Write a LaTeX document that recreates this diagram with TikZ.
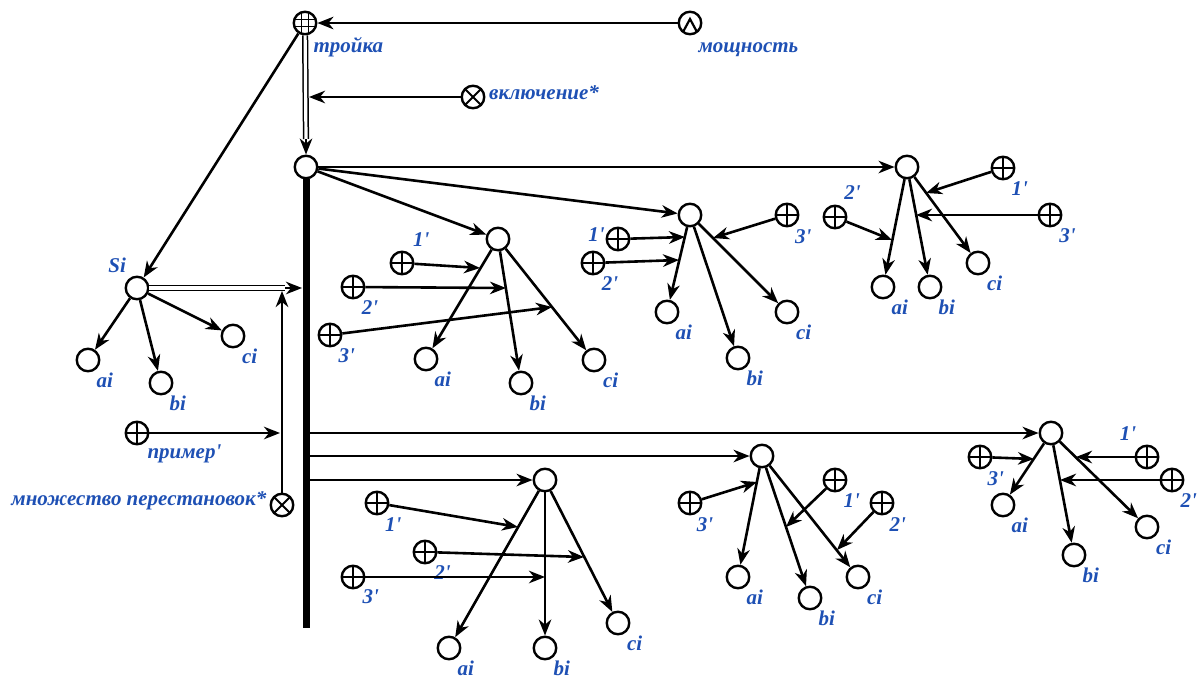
\documentclass[tikz,border=0pt]{standalone}
\usepackage{fontspec}
\newfontfamily\idfont{Liberation Serif}
\usetikzlibrary{arrows.meta,positioning}
\definecolor{idblue}{RGB}{30,80,180}

\begin{document}
\begin{tikzpicture}[
  x=1pt, y=1pt,
  >={Stealth[length=16pt,width=12.5pt,inset=5pt]},
  elem/.style={circle, draw, line width=2.4pt, minimum size=22.5pt, inner sep=0pt},
  plus/.style={elem, path picture={
      \draw[line width=2pt] (path picture bounding box.north) -- (path picture bounding box.south)
        (path picture bounding box.west) -- (path picture bounding box.east);}},
  cross/.style={elem, path picture={
      \draw[line width=2pt] (path picture bounding box.north west) -- (path picture bounding box.south east)
        (path picture bounding box.north east) -- (path picture bounding box.south west);}},
  grid/.style={elem, path picture={
      \draw[line width=1.4pt]
        ([xshift=-3.6pt]path picture bounding box.north) -- ([xshift=-3.6pt]path picture bounding box.south)
        ([xshift=3.6pt]path picture bounding box.north) -- ([xshift=3.6pt]path picture bounding box.south)
        ([yshift=-3.6pt]path picture bounding box.west) -- ([yshift=-3.6pt]path picture bounding box.east)
        ([yshift=3.6pt]path picture bounding box.west) -- ([yshift=3.6pt]path picture bounding box.east);}},
  hat/.style={elem, path picture={
      \draw[line width=2.2pt]
        ([xshift=-7pt,yshift=-9pt]path picture bounding box.center) -- ([yshift=4pt]path picture bounding box.center)
        -- ([xshift=7pt,yshift=-9pt]path picture bounding box.center);}},
  lbl/.style={text=idblue, font=\idfont\fontsize{21}{24}\selectfont\bfseries\itshape,
    inner sep=2pt, text height=14pt, text depth=4.5pt},
  tag/.style args={#1:#2}{label={[lbl, anchor=center, label distance=16pt]#1:#2}},
  sub/.style={elem, tag=-54:#1},
  arrow/.style={->, line width=2.6pt},
  dbl/.style={double=white, double distance=3.2pt, line width=1.5pt}
]
\useasboundingbox (0,0) rectangle (1203,-681);

% top of the construction
\node[grid] (triple) at (305,-23) {};
\node[hat] (power) at (690,-23) {};
\node[cross] (incl) at (473,-97) {};
\node[elem] (root) at (306,-167) {};
\coordinate (inclend) at (309,-97);
\coordinate (rootin) at (306,-139);
\coordinate (barend) at (306,-628);

\node[lbl, below right=4pt and -2.5pt of triple] (tripleL) {тройка};
\node[lbl, below right=4pt and -2.5pt of power] (powerL) {мощность};
\node[lbl, right=1.5pt of incl, yshift=2.75pt] (inclL) {включение*};

\draw[arrow] (power) -- (triple);
\draw[dbl] (triple) -- (rootin);
\draw[arrow] (rootin) -- (root);
\draw[arrow] (incl) -- (inclend);
\draw[line width=7pt] (root) -- (barend);

% Si and its components
\node[elem, tag=134:Si] (si) at (137,-288) {};
\node[sub=ai] (sia) at (88,-360) {};
\node[sub=bi] (sib) at (161,-383) {};
\node[sub=ci] (sic) at (233,-336) {};
\coordinate (siin) at (285,-288);
\coordinate (sibar) at (302,-288);
\draw[arrow] (triple) -- (si);
\draw[arrow] (si) -- (sia);
\draw[arrow] (si) -- (sib);
\draw[arrow] (si) -- (sic);
\draw[dbl] (si) -- (siin);
\draw[arrow] (siin) -- (sibar);

% example and set of permutations
\node[plus] (example) at (137,-433) {};
\node[cross] (perms) at (282,-505) {};
\node[lbl, below right=0pt and -0.5pt of example] (exampleL) {пример'};
\node[lbl, left=1pt of perms, yshift=4pt] (permsL) {множество перестановок*};
\coordinate (exend) at (280,-433);
\coordinate (permsend) at (282,-291);
\draw[arrow] (example) -- (exend);
\draw[arrow] (perms) -- (permsend);

% triples
\node[elem] (t1) at (498,-239) {};
\node[elem] (t2) at (690,-215) {};
\node[elem] (t3) at (907,-167) {};
\node[elem] (t4) at (545,-480) {};
\node[elem] (t5) at (762,-456) {};
\node[elem] (t6) at (1051,-433) {};
\coordinate (bar4) at (306,-480);
\coordinate (bar5) at (306,-456);
\coordinate (bar6) at (306,-433);
\draw[arrow] (root) -- (t1);
\draw[arrow] (root) -- (t2);
\draw[arrow] (root) -- (t3);
\draw[arrow] (bar4) -- (t4);
\draw[arrow] (bar5) -- (t5);
\draw[arrow] (bar6) -- (t6);

% triple 1
\node[sub=ai] (t1a) at (426,-359) {};
\node[sub=bi] (t1b) at (521,-383) {};
\node[sub=ci] (t1c) at (594,-360) {};
\node[plus, tag=47:1'] (t1p1) at (402,-263) {};
\node[plus, tag=-53:2'] (t1p2) at (353,-287) {};
\node[plus, tag=-54:3'] (t1p3) at (330,-335) {};
\coordinate (t1e1) at (480,-268);
\coordinate (t1e2) at (506,-288);
\coordinate (t1e3) at (552,-307);
\draw[arrow] (t1) -- (t1a);
\draw[arrow] (t1) -- (t1b);
\draw[arrow] (t1) -- (t1c);
\draw[arrow] (t1p1) -- (t1e1);
\draw[arrow] (t1p2) -- (t1e2);
\draw[arrow] (t1p3) -- (t1e3);

% triple 2
\node[sub=ai] (t2a) at (667,-312) {};
\node[sub=bi] (t2b) at (738,-358) {};
\node[sub=ci] (t2c) at (787,-312) {};
\node[plus, label={[lbl, anchor=center, label distance=9pt]175:1'}] (t2p1) at (618,-239) {};
\node[plus, tag=-53:2'] (t2p2) at (593,-263) {};
\node[plus, tag=-55:3'] (t2p3) at (787,-215) {};
\coordinate (t2e1) at (685,-237);
\coordinate (t2e2) at (679,-260);
\coordinate (t2e3) at (713,-238);
\draw[arrow] (t2) -- (t2a);
\draw[arrow] (t2) -- (t2b);
\draw[arrow] (t2) -- (t2c);
\draw[arrow] (t2p1) -- (t2e1);
\draw[arrow] (t2p2) -- (t2e2);
\draw[arrow] (t2p3) -- (t2e3);

% triple 3
\node[sub=ai] (t3a) at (883,-287) {};
\node[sub=bi] (t3b) at (930,-287) {};
\node[sub=ci] (t3c) at (978,-263) {};
\node[plus, tag=-54:1'] (t3p1) at (1003,-168) {};
\node[plus, tag=52:2'] (t3p2) at (835,-217) {};
\node[plus, tag=-52:3'] (t3p3) at (1050,-215) {};
\coordinate (t3e1) at (926,-193);
\coordinate (t3e2) at (892,-240);
\coordinate (t3e3) at (916,-215);
\draw[arrow] (t3) -- (t3a);
\draw[arrow] (t3) -- (t3b);
\draw[arrow] (t3) -- (t3c);
\draw[arrow] (t3p1) -- (t3e1);
\draw[arrow] (t3p2) -- (t3e2);
\draw[arrow] (t3p3) -- (t3e3);

% triple 4
\node[sub=ai] (t4a) at (449,-648) {};
\node[sub=bi] (t4b) at (545,-648) {};
\node[sub=ci] (t4c) at (618,-623) {};
\node[plus, tag=-55:1'] (t4p1) at (377,-503) {};
\node[plus, tag=-52:2'] (t4p2) at (425,-552) {};
\node[plus, tag=-51:3'] (t4p3) at (353,-577) {};
\coordinate (t4e1) at (518,-527);
\coordinate (t4e2) at (584,-557);
\coordinate (t4e3) at (545,-577);
\draw[arrow] (t4) -- (t4a);
\draw[arrow] (t4) -- (t4b);
\draw[arrow] (t4) -- (t4c);
\draw[arrow] (t4p1) -- (t4e1);
\draw[arrow] (t4p2) -- (t4e2);
\draw[arrow] (t4p3) -- (t4e3);

% triple 5
\node[sub=ai] (t5a) at (738,-577) {};
\node[sub=bi] (t5b) at (810,-598) {};
\node[sub=ci] (t5c) at (858,-577) {};
\node[plus, tag=-54:1'] (t5p1) at (835,-480) {};
\node[plus, tag=-56:2'] (t5p2) at (882,-503) {};
\node[plus, tag=-58:3'] (t5p3) at (690,-503) {};
\coordinate (t5e1) at (786,-527);
\coordinate (t5e2) at (837,-550);
\coordinate (t5e3) at (757,-482);
\draw[arrow] (t5) -- (t5a);
\draw[arrow] (t5) -- (t5b);
\draw[arrow] (t5) -- (t5c);
\draw[arrow] (t5p1) -- (t5e1);
\draw[arrow] (t5p2) -- (t5e2);
\draw[arrow] (t5p3) -- (t5e3);

% triple 6
\node[sub=ai] (t6a) at (1003,-505) {};
\node[sub=bi] (t6b) at (1074,-555) {};
\node[sub=ci] (t6c) at (1147,-527) {};
\node[plus, tag=132:1'] (t6p1) at (1147,-457) {};
\node[plus, tag=-54:2'] (t6p2) at (1172,-480) {};
\node[plus, tag=-56:3'] (t6p3) at (980,-457) {};
\coordinate (t6e1) at (1076,-457);
\coordinate (t6e2) at (1060,-480);
\coordinate (t6e3) at (1034,-459);
\draw[arrow] (t6) -- (t6a);
\draw[arrow] (t6) -- (t6b);
\draw[arrow] (t6) -- (t6c);
\draw[arrow] (t6p1) -- (t6e1);
\draw[arrow] (t6p2) -- (t6e2);
\draw[arrow] (t6p3) -- (t6e3);

\end{tikzpicture}
\end{document}
